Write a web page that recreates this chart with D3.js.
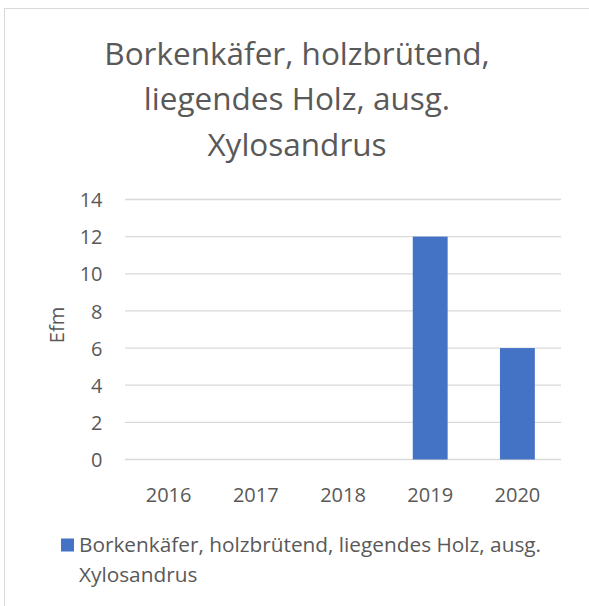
<!DOCTYPE html>
<html>
<head>
<meta charset="utf-8">
<script src="https://cdn.jsdelivr.net/npm/d3@7"></script>
<style>
  html, body { margin: 0; padding: 0; background: #fff; }
  svg text { font-family: "Open Sans", Lato, sans-serif; fill: #595959; }
</style>
</head>
<body>
<svg id="chart" width="589" height="606"></svg>
<script>
'use strict';

var titleLines = ['Borkenkäfer, holzbrütend,', 'liegendes Holz, ausg.', 'Xylosandrus'];
var years = ['2016', '2017', '2018', '2019', '2020'];
var efm = [0, 0, 0, 12, 6];
var yTicks = [0, 2, 4, 6, 8, 10, 12, 14];
var yLabel = 'Efm';
var seriesName = 'Borkenkäfer, holzbrütend, liegendes Holz, ausg. Xylosandrus';

var svg = d3.select('#chart');
var color = '#4472C4';
var grid = '#D9D9D9';

// outer chart border (right/bottom fall outside the picture)
svg.append('rect')
  .attr('x', 4.5).attr('y', 8.5)
  .attr('width', 620).attr('height', 640)
  .attr('fill', '#fff')
  .attr('stroke', grid)
  .attr('stroke-width', 1);

// title
svg.append('g').selectAll('text').data(titleLines).enter().append('text')
  .attr('x', 297)
  .attr('y', function (d, i) { return 64.5 + i * 45.6; })
  .attr('text-anchor', 'middle')
  .style('font-size', '31.5px')
  .text(function (d) { return d; });

var plot = { left: 125, right: 561, top: 199.5, bottom: 459.5 };

var x = d3.scaleBand().domain(years).range([plot.left, plot.right]).paddingInner(0.6).paddingOuter(0.3);
var y = d3.scaleLinear().domain([0, 14]).range([plot.bottom, plot.top]);

// gridlines
svg.append('g').selectAll('line').data(yTicks).enter().append('line')
  .attr('x1', plot.left).attr('x2', plot.right)
  .attr('y1', function (d) { return y(d); })
  .attr('y2', function (d) { return y(d); })
  .attr('stroke', grid)
  .attr('stroke-width', 1.3);

// bars
svg.append('g').selectAll('rect').data(efm).enter().append('rect')
  .attr('x', function (d, i) { return x(years[i]); })
  .attr('y', function (d) { return y(d); })
  .attr('width', x.bandwidth())
  .attr('height', function (d) { return y(0) - y(d); })
  .attr('fill', color);

// y axis labels
var yAxis = d3.axisLeft(y).tickValues(yTicks).tickSize(0).tickPadding(0);
var yg = svg.append('g').attr('transform', 'translate(102.5,0)').call(yAxis);
yg.select('.domain').remove();
yg.selectAll('text').style('font-size', '20px').attr('font-family', null).attr('dy', '0.36em');

// x axis labels
var xAxis = d3.axisBottom(x).tickSize(0).tickPadding(0);
var xg = svg.append('g').attr('transform', 'translate(0,501.7)').call(xAxis);
xg.select('.domain').remove();
xg.selectAll('text').style('font-size', '20px').attr('font-family', null).attr('y', 0).attr('dy', 0);

// y axis title
svg.append('text')
  .attr('transform', 'translate(63.5,325) rotate(-90)')
  .attr('text-anchor', 'middle')
  .style('font-size', '20px')
  .text(yLabel);

// legend
var legend = svg.append('g');
legend.append('rect')
  .attr('x', 61).attr('y', 538.5)
  .attr('width', 13).attr('height', 13)
  .attr('fill', color);

var legendText = legend.append('text')
  .attr('x', 79).attr('y', 551.7)
  .style('font-size', '20.8px');

function wrap(textSel, str, maxWidth, lineHeight) {
  var words = str.split(' ');
  var line = [];
  var tspan = textSel.append('tspan').attr('x', 79).attr('dy', 0);
  words.forEach(function (w) {
    line.push(w);
    tspan.text(line.join(' '));
    if (tspan.node().getComputedTextLength() > maxWidth && line.length > 1) {
      line.pop();
      tspan.text(line.join(' '));
      line = [w];
      tspan = textSel.append('tspan').attr('x', 79).attr('dy', lineHeight).text(w);
    }
  });
}
wrap(legendText, seriesName, 490, 30);
</script>
</body>
</html>
